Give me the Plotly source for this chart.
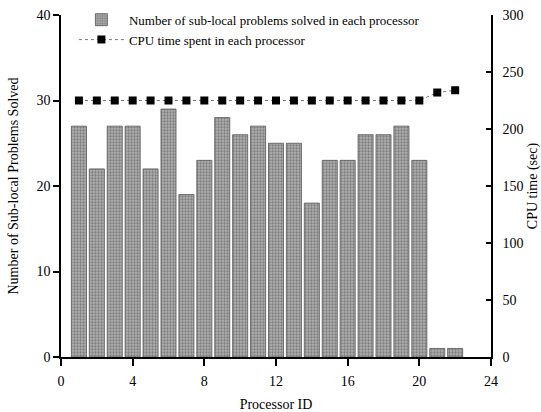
import plotly.graph_objects as go

processor_id = list(range(1, 23))
subproblems = [27, 22, 27, 27, 22, 29, 19, 23, 28, 26, 27, 25, 25, 18, 23, 23, 26, 26, 27, 23, 1, 1]
cpu_time = [225]*20 + [232, 234]

font_family = "Liberation Serif"
tf = dict(family=font_family, size=14, color="black")

fig = go.Figure()
fig.add_trace(go.Bar(
    x=processor_id, y=subproblems, width=0.84,
    name="Number of sub-local problems solved in each processor",
    marker=dict(color="#a0a0a0", line=dict(color="#555555", width=0.8),
                pattern=dict(shape=".", fgcolor="#4a4a4a", bgcolor="#b0b0b0", size=3, solidity=0.45)),
    yaxis="y"))
fig.add_trace(go.Scatter(
    x=processor_id, y=cpu_time, mode="lines+markers",
    name="CPU time spent in each processor",
    line=dict(color="#777777", width=1, dash="dot"),
    marker=dict(symbol="square", size=8, color="black"),
    yaxis="y2"))

fig.update_layout(
    width=541, height=412,
    margin=dict(l=61, r=50, t=15, b=55, autoexpand=False),
    paper_bgcolor="white", plot_bgcolor="white",
    font=dict(family=font_family, size=14, color="black"),
    showlegend=True,
    legend=dict(x=0.03, y=1.03, xanchor="left", yanchor="top",
                bgcolor="rgba(0,0,0,0)", font=dict(size=13, family=font_family),
                tracegroupgap=0, itemwidth=45),
    xaxis=dict(range=[0, 24], tickvals=[0, 4, 8, 12, 16, 20, 24], showgrid=False,
               zeroline=False, showline=True, linecolor="black", linewidth=1.5,
               ticks="outside", ticklen=7, tickwidth=1.5, tickcolor="black", tickfont=tf,
               ticklabelstandoff=3, automargin=False,
               title=dict(text="Processor ID", font=dict(size=14, family=font_family))),
    yaxis=dict(range=[0, 40], tickvals=[0, 10, 20, 30, 40], showgrid=False,
               zeroline=False, showline=True, linecolor="black", linewidth=1.5,
               ticks="outside", ticklen=6, tickwidth=1.5, tickcolor="black", tickfont=tf,
               automargin=False,
               title=dict(text="Number of Sub-local Problems Solved",
                          font=dict(size=14, family=font_family))),
    yaxis2=dict(range=[0, 300], tickvals=[0, 50, 100, 150, 200, 250, 300], overlaying="y",
                side="right", showgrid=False, zeroline=False, showline=True,
                linecolor="black", linewidth=1.5, ticks="inside", ticklen=5,
                tickwidth=1.5, tickcolor="black", tickfont=tf, ticklabelstandoff=7,
                automargin=False,
                title=dict(text="CPU time (sec)", font=dict(size=14, family=font_family))),
)

fig.write_html("out.html")
